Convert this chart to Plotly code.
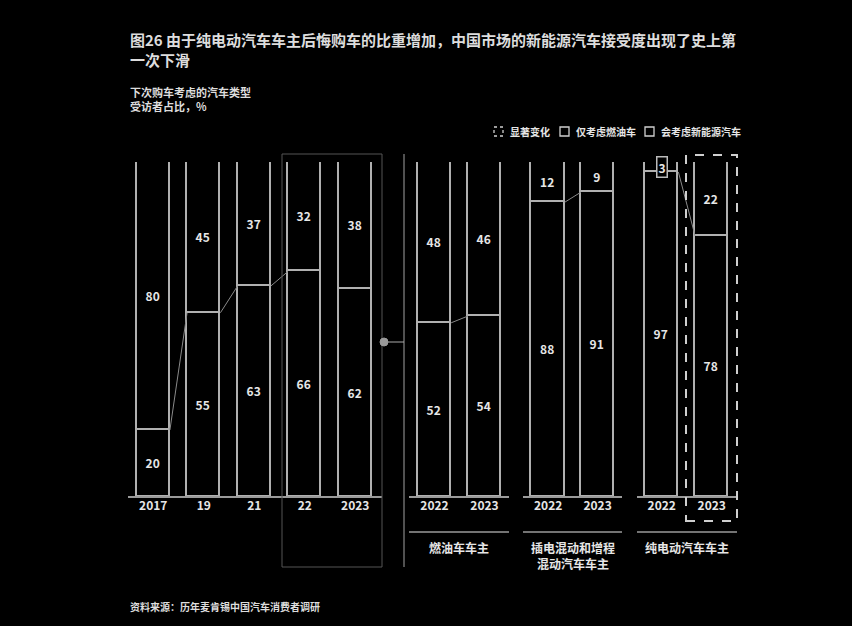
import plotly.graph_objects as go

# ---------------- data ----------------
tick_labels = ["2017", "19", "21", "22", "2023",
               "2022", "2023", "2022", "2023", "2022", "2023"]
nev_share = [20, 55, 63, 66, 62, 52, 54, 88, 91, 97, 78]      # 会考虑新能源汽车
ice_share = [80, 45, 37, 32, 38, 48, 46, 12, 9, 3, 22]        # 仅考虑燃油车
group_names = ["燃油车车主", "插电混动和增程<br>混动汽车车主", "纯电动汽车车主"]

# slot positions (layout)
pos = [0, 1, 2, 3, 4, 5.57, 6.56, 7.82, 8.8, 10.07, 11.06]
BW = 0.66

# pixel -> paper helpers for decorations
PL, PR, PT, PB = 128, 739, 162, 497
def px_x(p):
    return (p - PL) / (PR - PL)
def px_y(p):
    return (PB - p) / (PB - PT)

TXT = "#e6e6e6"
EDGE = "#b0b0b0"
FONT = "Noto Sans CJK SC"

fig = go.Figure()

nev_text = ["<b>%d</b>" % v for v in nev_share]
ice_text = ["<b>%d</b>" % v if v >= 5 else "" for v in ice_share]

fig.add_trace(go.Bar(
    x=pos, y=nev_share, width=BW, name="会考虑新能源汽车",
    marker=dict(color="#000000", line=dict(color=EDGE, width=1.6)),
    text=nev_text, texttemplate="%{text}", textposition="inside",
    insidetextanchor="middle", textangle=0,
    textfont=dict(color=TXT, size=12, family=FONT),
    hoverinfo="skip", showlegend=False))
fig.add_trace(go.Bar(
    x=pos, y=ice_share, width=BW, name="仅考虑燃油车",
    marker=dict(color="#000000", line=dict(color=EDGE, width=1.6)),
    text=ice_text, texttemplate="%{text}", textposition="inside",
    insidetextanchor="middle", textangle=0,
    textfont=dict(color=TXT, size=12, family=FONT),
    hoverinfo="skip", showlegend=False))

# connector lines between consecutive bars (normalised NEV share)
norm = [n / (n + f) * 100 for n, f in zip(nev_share, ice_share)]
pairs = [(0, 1), (1, 2), (2, 3), (5, 6), (7, 8), (9, 10)]
for a, b in pairs:
    fig.add_trace(go.Scatter(
        x=[pos[a] + BW / 2, pos[b] - BW / 2], y=[norm[a], norm[b]],
        mode="lines", line=dict(color="#8a8a8a", width=1),
        hoverinfo="skip", showlegend=False))

shapes = []
annotations = []

# baselines + group underlines
seg_px = [(128, 382), (409, 509), (523, 622), (637, 737)]
for i, (x0, x1) in enumerate(seg_px):
    shapes.append(dict(type="line", xref="paper", yref="paper",
                       x0=px_x(x0), x1=px_x(x1), y0=0, y1=0,
                       line=dict(color="#9a9a9a", width=2)))
    if i > 0:
        shapes.append(dict(type="line", xref="paper", yref="paper",
                           x0=px_x(x0), x1=px_x(x1), y0=px_y(532), y1=px_y(532),
                           line=dict(color="#9a9a9a", width=1.5)))
        annotations.append(dict(xref="paper", yref="paper",
                                x=px_x((x0 + x1) / 2), y=px_y(537),
                                yanchor="top", xanchor="center",
                                text="<b>" + group_names[i - 1] + "</b>", showarrow=False,
                                font=dict(color=TXT, size=12, family=FONT)))

# highlight box around 22/2023 in left panel
shapes.append(dict(type="rect", xref="paper", yref="paper",
                   x0=px_x(282), x1=px_x(382), y0=px_y(567), y1=px_y(154),
                   line=dict(color="#555555", width=1)))
# separator line + dot connector
shapes.append(dict(type="line", xref="paper", yref="paper",
                   x0=px_x(404), x1=px_x(404), y0=px_y(567), y1=px_y(154),
                   line=dict(color="#888888", width=1.2)))
shapes.append(dict(type="line", xref="paper", yref="paper",
                   x0=px_x(384), x1=px_x(404), y0=px_y(342), y1=px_y(342),
                   line=dict(color="#aaaaaa", width=1)))
shapes.append(dict(type="circle", xref="paper", yref="paper",
                   x0=px_x(380), x1=px_x(388), y0=px_y(346), y1=px_y(338),
                   fillcolor="#9a9a9a", line=dict(color="#9a9a9a", width=1)))
# dashed highlight around BEV 2023
shapes.append(dict(type="rect", xref="paper", yref="paper",
                   x0=px_x(686), x1=px_x(737), y0=px_y(521), y1=px_y(155),
                   line=dict(color="#cfcfcf", width=2, dash="dash")))

# small "3" label box on BEV 2022
annotations.append(dict(x=pos[9], y=98.5, xref="x", yref="y", text="<b>3</b>",
                        showarrow=False, bgcolor="#000000",
                        bordercolor="#bbbbbb", borderwidth=1.5, borderpad=1,
                        font=dict(color=TXT, size=12, family=FONT)))

# legend
leg = [(494, "显著变化", "dash"), (560, "仅考虑燃油车", "solid"),
       (645, "会考虑新能源汽车", "solid")]
for x0, label, dash in leg:
    shapes.append(dict(type="rect", xref="paper", yref="paper",
                       x0=px_x(x0), x1=px_x(x0 + 9), y0=px_y(136), y1=px_y(127),
                       line=dict(color="#cfcfcf", width=1.3, dash="dot" if dash == "dash" else "solid")))
    annotations.append(dict(xref="paper", yref="paper", x=px_x(x0 + 14), y=px_y(131.5),
                            xanchor="left", yanchor="middle", text="<b>" + label + "</b>",
                            showarrow=False,
                            font=dict(color=TXT, size=10, family=FONT)))

# titles
annotations.append(dict(xref="paper", yref="paper", x=px_x(128), y=px_y(27),
                        xanchor="left", yanchor="top", align="left",
                        text="<b>图26 由于纯电动汽车车主后悔购车的比重增加，中国市场的新能源汽车接受度出现了史上第<br>一次下滑</b>",
                        showarrow=False,
                        font=dict(color="#dddddd", size=15, family=FONT)))
annotations.append(dict(xref="paper", yref="paper", x=px_x(128), y=px_y(82),
                        xanchor="left", yanchor="top", align="left",
                        text="<b>下次购车考虑的汽车类型<br>受访者占比，%</b>",
                        showarrow=False,
                        font=dict(color="#dddddd", size=11, family=FONT)))
annotations.append(dict(xref="paper", yref="paper", x=px_x(128), y=px_y(606),
                        xanchor="left", yanchor="middle", align="left",
                        text="<b>资料来源：历年麦肯锡中国汽车消费者调研</b>",
                        showarrow=False,
                        font=dict(color="#dddddd", size=10, family=FONT)))

fig.update_layout(
    width=852, height=626,
    margin=dict(l=PL, r=852 - PR, t=PT, b=626 - PB),
    paper_bgcolor="#000000", plot_bgcolor="#000000",
    barmode="stack", barnorm="percent", bargap=0,
    shapes=shapes, annotations=annotations,
    font=dict(family=FONT, color=TXT),
    xaxis=dict(range=[-0.5, 11.6], tickvals=pos,
               ticktext=["<b>%s</b>" % t for t in tick_labels],
               showgrid=False, zeroline=False, showline=False, ticks="",
               tickfont=dict(color=TXT, size=12, family=FONT)),
    yaxis=dict(range=[0, 100], visible=False, showgrid=False, zeroline=False),
)

fig.write_html("out.html", config={"displayModeBar": False},
               post_script="document.body.style.margin='0';")
